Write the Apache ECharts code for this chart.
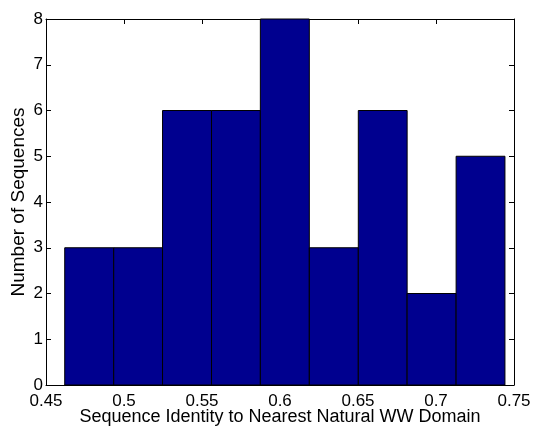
<!DOCTYPE html>
<html>
<head>
<meta charset="utf-8">
<script src="https://cdn.jsdelivr.net/npm/echarts@6/dist/echarts.min.js"></script>
<style>
  html, body { margin: 0; padding: 0; background: #fff; }
  #main { width: 533px; height: 427px; }
</style>
</head>
<body>
<div id="main"></div>
<script>
  // bin edges (identity fraction)
  var binEdges = [0.4620, 0.4934, 0.5247, 0.5561, 0.5874, 0.6188, 0.6502, 0.6815, 0.7129, 0.7442];
  // counts per bin
  var counts = [3, 3, 6, 6, 8, 3, 6, 2, 5];
  var xTicks = [0.45, 0.5, 0.55, 0.6, 0.65, 0.7, 0.75];
  var yTicks = [0, 1, 2, 3, 4, 5, 6, 7, 8];

  var font = '"Liberation Sans", Arial, Helvetica, sans-serif';

  var barData = counts.map(function (c, i) {
    return [binEdges[i], binEdges[i + 1], c];
  });

  var myChart = echarts.init(document.getElementById('main'));

  var tickStyle = { show: true, inside: true, length: 5, lineStyle: { color: '#000', width: 1 } };
  var lineStyle = { show: true, onZero: false, lineStyle: { color: '#000', width: 1 } };

  var option = {
    animation: false,
    backgroundColor: '#fff',
    grid: { left: 46, right: 19, top: 19, bottom: 42, containLabel: false, outerBoundsMode: 'none' },
    xAxis: [
      {
        type: 'value',
        min: xTicks[0], max: xTicks[xTicks.length - 1], interval: 0.05,
        name: 'Sequence Identity to Nearest Natural WW Domain',
        nameLocation: 'middle', nameGap: 23, nameMoveOverlap: false,
        nameTextStyle: { fontFamily: font, fontSize: 18, color: '#000' },
        axisLine: lineStyle, axisTick: tickStyle,
        axisLabel: { fontFamily: font, fontSize: 17, color: '#000', margin: 8,
          formatter: function (v) { return String(+v.toFixed(2)); } },
        splitLine: { show: false }
      },
      {
        type: 'value', position: 'top',
        min: xTicks[0], max: xTicks[xTicks.length - 1], interval: 0.05,
        axisLine: lineStyle, axisTick: tickStyle,
        axisLabel: { show: false }, splitLine: { show: false }
      }
    ],
    yAxis: [
      {
        type: 'value',
        min: yTicks[0], max: yTicks[yTicks.length - 1], interval: 1,
        name: 'Number of Sequences',
        nameLocation: 'middle', nameGap: 18, nameMoveOverlap: false,
        nameTextStyle: { fontFamily: font, fontSize: 19, color: '#000' },
        axisLine: lineStyle, axisTick: tickStyle,
        axisLabel: { fontFamily: font, fontSize: 17, color: '#000', margin: 3 },
        splitLine: { show: false }
      },
      {
        type: 'value', position: 'right',
        min: yTicks[0], max: yTicks[yTicks.length - 1], interval: 1,
        axisLine: lineStyle, axisTick: tickStyle,
        axisLabel: { show: false }, splitLine: { show: false }
      }
    ],
    series: [{
      type: 'custom',
      xAxisIndex: 0, yAxisIndex: 0,
      data: barData,
      encode: { x: [0, 1], y: 2 },
      renderItem: function (params, api) {
        var p0 = api.coord([api.value(0), api.value(2)]);
        var p1 = api.coord([api.value(1), 0]);
        return {
          type: 'rect',
          shape: { x: p0[0], y: p0[1], width: p1[0] - p0[0], height: p1[1] - p0[1] },
          style: { fill: '#00008f', stroke: '#000', lineWidth: 1 }
        };
      }
    }]
  };

  myChart.setOption(option);
</script>
</body>
</html>
